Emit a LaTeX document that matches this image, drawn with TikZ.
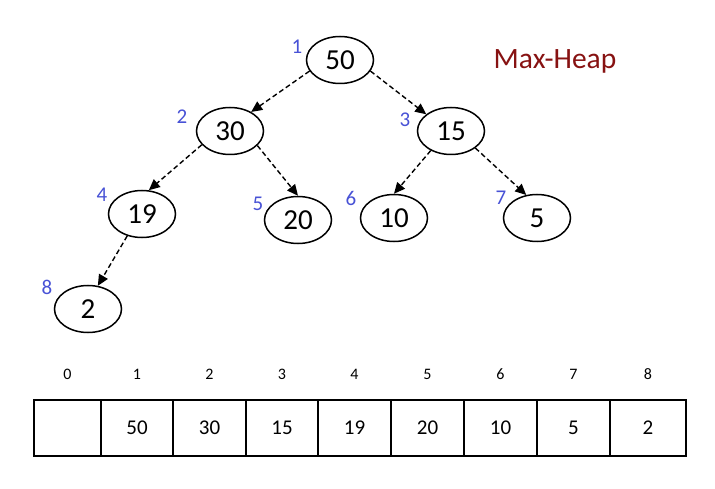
\documentclass[tikz,border=0pt]{standalone}
\usepackage{fontspec}
\setmainfont{Carlito}
\usetikzlibrary{arrows.meta,shapes.geometric}
\definecolor{idxblue}{RGB}{72,82,214}
\definecolor{titlered}{RGB}{135,18,18}
\begin{document}
\begin{tikzpicture}[x=1pt,y=-1pt,
  heapnode/.style={draw,ellipse,line width=1.5pt,minimum width=67pt,minimum height=47pt,inner sep=0pt,font=\fontsize{29}{31}\selectfont},
  idxlabel/.style={text=idxblue,inner sep=0pt,font=\fontsize{21}{23}\selectfont},
  heaparrow/.style={line width=1.4pt,dash pattern=on 5pt off 3pt,-{Triangle[length=11pt,width=10pt]}},
  cell/.style={draw,line width=1.5pt,minimum height=56pt,inner sep=0pt,font=\fontsize{21}{23}\selectfont},
  arridx/.style={inner sep=0pt,font=\fontsize{16}{18}\selectfont}]
\useasboundingbox (0,0) rectangle (715,489);
\fill[white] (0,0) rectangle (715,489);
% heap nodes
\node[heapnode] (n1) at (340,60) {50};
\node[heapnode] (n2) at (230,131) {30};
\node[heapnode] (n3) at (451,131) {15};
\node[heapnode] (n4) at (142,214) {19};
\node[heapnode] (n5) at (298,220) {20};
\node[heapnode] (n6) at (394,218) {10};
\node[heapnode] (n7) at (537,218) {5};
\node[heapnode] (n8) at (88,309) {2};
% index labels
\node[idxlabel] (l1) at (297,47) {1};
\node[idxlabel] (l2) at (182,117) {2};
\node[idxlabel] (l3) at (405,120) {3};
\node[idxlabel] (l4) at (102,195) {4};
\node[idxlabel] (l5) at (258,204) {5};
\node[idxlabel] (l6) at (351,198) {6};
\node[idxlabel] (l7) at (501,198) {7};
\node[idxlabel] (l8) at (47,287) {8};
% title
\node[text=titlered,anchor=base,inner sep=0pt,font=\fontsize{29.5}{31}\selectfont] (title) at (555,69) {Max-Heap};
% arrows
\draw[heaparrow] (n1.200) -- (n2.42);
\draw[heaparrow] (n1.340) -- (n3.146);
\draw[heaparrow] (n2.206) -- (n4.74);
\draw[heaparrow] (n2.332) -- (n5.north);
\draw[heaparrow] (n3.224) -- (n6.north);
\draw[heaparrow] (n3.325) -- (n7.115);
\draw[heaparrow] (n4.236) -- (n8.67);
% array
\node[cell,minimum width=67pt] (c0) at (67.5,428) {};
\node[cell,minimum width=72pt] (c1) at (137,428) {50};
\node[cell,minimum width=73pt] (c2) at (209.5,428) {30};
\node[cell,minimum width=72pt] (c3) at (282,428) {15};
\node[cell,minimum width=73pt] (c4) at (354.5,428) {19};
\node[cell,minimum width=73pt] (c5) at (427.5,428) {20};
\node[cell,minimum width=73pt] (c6) at (500.5,428) {10};
\node[cell,minimum width=73pt] (c7) at (573.5,428) {5};
\node[cell,minimum width=76pt] (c8) at (648,428) {2};
\foreach \i/\x in {0/67.5,1/137,2/209.5,3/282,4/354.5,5/427.5,6/500.5,7/573.5,8/648}
  \node[arridx] (a\i) at (\x,374) {\i};
\end{tikzpicture}
\end{document}
